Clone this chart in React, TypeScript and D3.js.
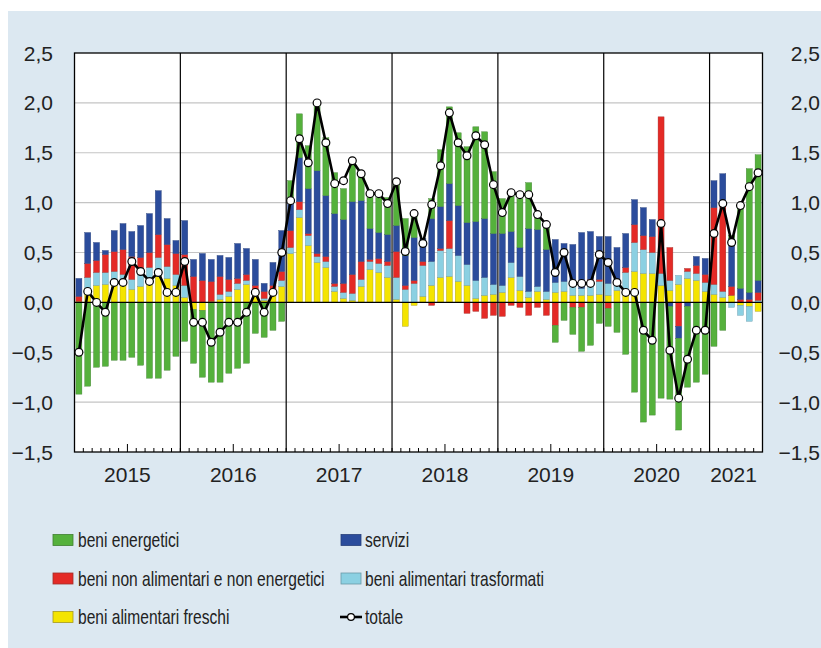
import React from "react";
import * as d3 from "d3";

// ---- categories ----
const years = ["2015", "2016", "2017", "2018", "2019", "2020", "2021"];
const monthsPerYear = [12, 12, 12, 12, 12, 12, 6];
const months: string[] = years.flatMap((y, i) =>
  d3.range(monthsPerYear[i]).map((m) => `${y}-${String(m + 1).padStart(2, "0")}`)
);

// ---- series (percentage-point contributions) ----
const freschi = [
  0.01, 0.14, 0.17, 0.18, 0.18, 0.17, 0.13, 0.16, 0.18, 0.26, 0.24, 0.17,
  0.05, -0.07, -0.08, 0.01, 0.03, 0.06, 0.13, 0.18, 0.08, 0.02, 0.07, 0.16,
  0.49, 0.85, 0.57, 0.40, 0.35, 0.11, 0.04, 0.02, 0.16, 0.33, 0.30, 0.25,
  0.03, -0.24, -0.03, 0.06, 0.17, 0.25, 0.26, 0.21, 0.17, 0.04, 0.07, 0.08,
  0.10, 0.25, 0.12, 0.05, 0.11, 0.03, 0.10, 0.11, 0.07, 0.07, 0.07, 0.08,
  0.07, 0.12, 0.10, 0.31, 0.29, 0.29, 0.17, 0.12, 0.18, 0.24, 0.22, 0.11,
  0.08, 0.05, 0.07, -0.03, -0.04, -0.09,
];
const trasformati = [
  0.0, 0.11, 0.13, 0.12, 0.13, 0.11, 0.10, 0.17, 0.17, 0.19, 0.12, 0.11,
  0.12, 0.0, 0.0, 0.0, 0.05, 0.05, 0.06, 0.04, 0.05, 0.02, 0.05, 0.06,
  0.06, 0.08, 0.10, 0.06, 0.06, 0.05, 0.06, 0.07, 0.07, 0.08, 0.09, 0.12,
  0.22, 0.13, 0.19, 0.31, 0.24, 0.27, 0.28, 0.26, 0.21, 0.18, 0.18, 0.10,
  0.07, 0.15, 0.14, 0.06, 0.05, 0.08, 0.10, 0.10, 0.09, 0.07, 0.14, 0.13,
  0.12, 0.10, 0.20, 0.29, 0.24, 0.21, 0.12, 0.10, 0.09, 0.07, 0.07, 0.09,
  0.10, 0.06, -0.05, -0.10, -0.15, 0.02,
];
const nonAlimentari = [
  0.05, 0.14, 0.12, 0.18, 0.20, 0.25, 0.23, 0.12, 0.15, 0.23, 0.22, 0.21,
  0.31, 0.26, 0.22, 0.20, 0.18, 0.12, 0.05, 0.06, 0.04, 0.07, 0.05, 0.09,
  0.17, 0.08, 0.02, 0.03, 0.05, 0.03, 0.09, 0.19, 0.18, 0.02, 0.05, 0.04,
  0.26, 0.04, 0.03, 0.04, -0.03, 0.02, 0.28, 0.0, -0.11, -0.09, -0.16, -0.13,
  -0.14, -0.03, -0.05, -0.13, -0.05, -0.13, -0.23, 0.0, -0.05, -0.05, 0.02, 0.02,
  -0.06, 0.0, 0.05, 0.18, 0.14, 0.16, 1.57, 0.33, -0.24, 0.03, 0.08, 0.08,
  0.77, 0.89, 0.09, 0.03, 0.03, 0.08,
];
const servizi = [
  0.18, 0.31, 0.18, 0.04, 0.21, 0.26, 0.25, 0.32, 0.39, 0.44, 0.26, 0.13,
  0.34, 0.17, 0.27, 0.22, 0.21, 0.22, 0.35, 0.26, 0.26, 0.08, 0.23, 0.41,
  0.28, 0.44, 0.45, 0.83, 0.61, 0.70, 0.64, 0.73, 0.61, 0.31, 0.26, 0.27,
  0.26, 0.30, 0.43, 0.23, 0.43, 0.42, 0.37, 0.50, 0.42, 0.59, 0.59, 0.51,
  0.52, 0.31, 0.29, 0.63, 0.57, 0.42, 0.43, 0.38, 0.42, 0.56, 0.48, 0.43,
  0.47, 0.33, 0.34, 0.25, 0.28, 0.17, 0.0, -0.04, -0.12, -0.04, 0.09, 0.16,
  0.27, 0.29, 0.48, 0.11, 0.07, 0.12,
];
const energetici = [
  -0.92, -0.84, -0.65, -0.64, -0.58, -0.58, -0.55, -0.63, -0.76, -0.76, -0.68, -0.54,
  -0.39, -0.54, -0.67, -0.80, -0.80, -0.71, -0.66, -0.61, -0.31, -0.35, -0.28, -0.19,
  0.22, 0.44, 0.43, 0.68, 0.58, 0.41, 0.31, 0.40, 0.26, 0.32, 0.35, 0.37,
  0.42, 0.37, 0.24, 0.0, 0.20, 0.57, 0.77, 0.73, 0.76, 0.95, 0.87, 0.62,
  0.35, 0.37, 0.49, 0.46, 0.16, 0.26, -0.17, -0.18, -0.27, -0.44, -0.43, -0.21,
  -0.18, -0.30, -0.52, -0.90, -1.20, -1.13, -0.96, -0.93, -0.92, -0.81, -0.80, -0.72,
  -0.44, -0.28, 0.03, 0.84, 1.24, 1.26,
];
const totale = [
  -0.50, 0.11, 0.0, -0.10, 0.20, 0.20, 0.41, 0.31, 0.21, 0.30, 0.10, 0.10,
  0.41, -0.20, -0.20, -0.40, -0.30, -0.20, -0.20, -0.10, 0.10, -0.10, 0.10, 0.50,
  1.02, 1.64, 1.40, 2.00, 1.60, 1.19, 1.22, 1.42, 1.29, 1.09, 1.09, 0.99,
  1.21, 0.51, 0.89, 0.59, 0.98, 1.37, 1.90, 1.60, 1.47, 1.67, 1.58, 1.18,
  0.90, 1.10, 1.08, 1.08, 0.88, 0.78, 0.30, 0.50, 0.19, 0.19, 0.19, 0.48,
  0.40, 0.20, 0.10, 0.10, -0.28, -0.38, 0.79, -0.48, -0.96, -0.57, -0.28, -0.28,
  0.69, 0.99, 0.60, 0.97, 1.16, 1.30,
];

const yTicks = [-1.5, -1.0, -0.5, 0.0, 0.5, 1.0, 1.5, 2.0, 2.5];

const seriesKeys = ["freschi", "trasformati", "nonAlimentari", "servizi", "energetici"];
const seriesColors: Record<string, string> = {
  freschi: "#f4e400",
  trasformati: "#8bd0e2",
  nonAlimentari: "#e42a26",
  servizi: "#2b4c9c",
  energetici: "#55b13c",
};
const seriesStroke: Record<string, string> = {
  freschi: "#a59a20",
  trasformati: "#6a9aa8",
  nonAlimentari: "#a0302c",
  servizi: "#27407a",
  energetici: "#3f7f30",
};

const legendItems = [
  { key: "energetici", label: "beni energetici", col: 0, row: 0 },
  { key: "servizi", label: "servizi", col: 1, row: 0 },
  { key: "nonAlimentari", label: "beni non alimentari e non energetici", col: 0, row: 1 },
  { key: "trasformati", label: "beni alimentari trasformati", col: 1, row: 1 },
  { key: "freschi", label: "beni alimentari freschi", col: 0, row: 2 },
  { key: "totale", label: "totale", col: 1, row: 2 },
];

const W = 821;
const H = 648;
const L = 74.5;
const R = 762.5;
const T = 53;
const B = 452;
const FONT = "'Liberation Sans', Arial, Helvetica, sans-serif";

export default function App() {
  const table = months.map((m, i) => ({
    month: m,
    freschi: freschi[i],
    trasformati: trasformati[i],
    nonAlimentari: nonAlimentari[i],
    servizi: servizi[i],
    energetici: energetici[i],
  }));
  const stacked = d3
    .stack<any>()
    .keys(seriesKeys)
    .offset(d3.stackOffsetDiverging)(table);

  const x = d3.scaleBand<string>().domain(months).range([L, R]).paddingInner(0.32).paddingOuter(0.16);
  const y = d3.scaleLinear().domain([-1.5, 2.5]).range([B, T]);
  const step = x.step();
  const cx = (m: string) => (x(m) as number) + x.bandwidth() / 2;

  const line = d3
    .line<number>()
    .x((_, i) => cx(months[i]))
    .y((d) => y(d));

  let acc = 0;
  const yearStarts = monthsPerYear.map((n) => {
    const s = acc;
    acc += n;
    return s;
  });

  const fmt = (v: number) => d3.format(".1f")(v).replace(".", ",");

  return (
    <div style={{ position: "absolute", left: 0, top: 0 }}>
      <svg width={W} height={H} style={{ display: "block" }} fontFamily={FONT}>
        <rect x={0} y={0} width={W} height={H} fill="#ffffff" />
        <rect x={8} y={11} width={W - 8} height={H - 11} fill="#dce8f1" />
        <rect x={L} y={T} width={R - L} height={B - T} fill="#ffffff" />

        {yTicks
          .filter((t) => t !== 0 && t !== 2.5 && t !== -1.5)
          .map((t) => (
            <line key={t} x1={L} x2={R} y1={y(t)} y2={y(t)} stroke="#c4c4c4" strokeWidth={1.2} />
          ))}

        {stacked.map((s) => (
          <g key={s.key} fill={seriesColors[s.key]} stroke={seriesStroke[s.key]} strokeWidth={0.4}>
            {s.map((d, i) => {
              const h = Math.abs(y(d[0]) - y(d[1]));
              if (h < 0.01) return null;
              return (
                <rect
                  key={i}
                  x={x(months[i])}
                  y={Math.min(y(d[0]), y(d[1]))}
                  width={x.bandwidth()}
                  height={h}
                />
              );
            })}
          </g>
        ))}

        {yearStarts.slice(1).map((s) => (
          <line key={s} x1={L + s * step} x2={L + s * step} y1={T} y2={B} stroke="#000" strokeWidth={1.2} />
        ))}

        <line x1={L} x2={R} y1={y(0)} y2={y(0)} stroke="#000" strokeWidth={1.3} />

        {d3.range(months.length).map((i) => {
          const xi = L + i * step;
          const len = i % 12 === 6 ? 8 : 4;
          return <line key={i} x1={xi} x2={xi} y1={B} y2={B - len} stroke="#000" strokeWidth={1} />;
        })}

        <rect x={L} y={T} width={R - L} height={B - T} fill="none" stroke="#000" strokeWidth={1.3} />

        <path d={line(totale) as string} fill="none" stroke="#000" strokeWidth={2.6} strokeLinejoin="round" />
        {totale.map((v, i) => (
          <circle key={i} cx={cx(months[i])} cy={y(v)} r={3.9} fill="#fff" stroke="#000" strokeWidth={1.2} />
        ))}

        {yTicks.map((t) => (
          <g key={t} fontSize={21} fill="#222">
            <text x={53} y={y(t)} dy="0.36em" textAnchor="end">
              {fmt(t)}
            </text>
            <text x={820} y={y(t)} dy="0.36em" textAnchor="end">
              {fmt(t)}
            </text>
          </g>
        ))}

        {years.map((yr, i) => {
          const s = yearStarts[i];
          const e = s + monthsPerYear[i];
          const mid = L + ((s + e) / 2) * step - (monthsPerYear[i] < 12 ? 2.5 : 0);
          return (
            <text key={yr} x={mid} y={482} fontSize={21} textAnchor="middle" fill="#222">
              {yr}
            </text>
          );
        })}

        {legendItems.map((it) => {
          const lx = it.col === 0 ? 53 : 340;
          const ly = 540 + it.row * 38.5;
          const tx = it.col === 0 ? 78 : 365;
          return (
            <g key={it.key}>
              {it.key === "totale" ? (
                <g>
                  <line x1={lx} x2={lx + 22} y1={ly} y2={ly} stroke="#000" strokeWidth={2.6} />
                  <circle cx={lx + 11} cy={ly} r={3.4} fill="#fff" stroke="#000" strokeWidth={1.2} />
                </g>
              ) : (
                <rect
                  x={it.col === 0 ? lx : lx + 1}
                  y={ly - 5.5}
                  width={20}
                  height={11}
                  fill={seriesColors[it.key]}
                  stroke={seriesStroke[it.key]}
                  strokeWidth={0.8}
                />
              )}
              <text
                transform={`translate(${tx},${ly}) scale(0.76,1)`}
                dy="0.36em"
                fontSize={20.5}
                fill="#222"
              >
                {it.label}
              </text>
            </g>
          );
        })}
      </svg>
    </div>
  );
}
